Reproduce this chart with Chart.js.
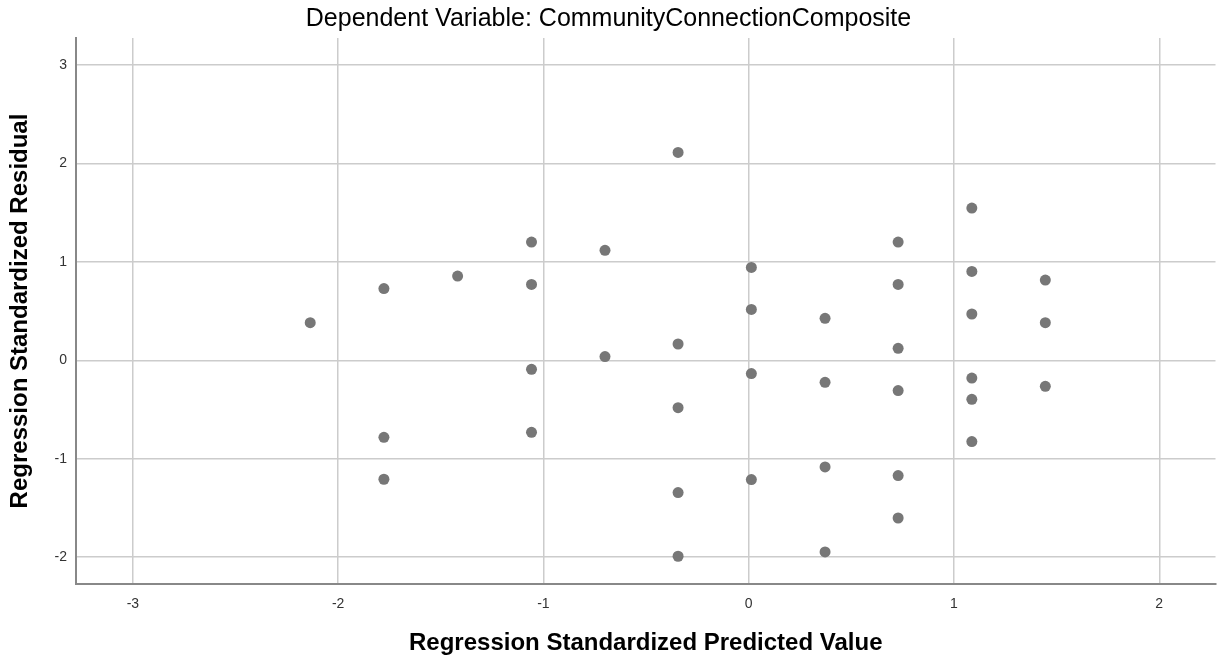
<!DOCTYPE html>
<html>
<head>
<meta charset="utf-8">
<title>Scatterplot</title>
<script src="https://cdn.jsdelivr.net/npm/chart.js@4.4.1/dist/chart.umd.min.js"></script>
<style>
  body { margin: 0; background: #fff; }
  #wrap { width: 1221px; height: 660px; }
</style>
</head>
<body>
<div id="wrap"><canvas id="residualChart"></canvas></div>
<script>
// Nilai prediksi terstandar (sumbu X)
const predictedValues = [
  -2.136,
  -1.777, -1.777, -1.777,
  -1.418,
  -1.058, -1.058, -1.058, -1.058,
  -0.700, -0.700,
  -0.344, -0.344, -0.344, -0.344, -0.344,
  0.013, 0.013, 0.013, 0.013,
  0.372, 0.372, 0.372, 0.372,
  0.728, 0.728, 0.728, 0.728, 0.728, 0.728,
  1.087, 1.087, 1.087, 1.087, 1.087, 1.087,
  1.445, 1.445, 1.445
];

// Residual terstandar (sumbu Y)
const residualValues = [
  0.383,
  0.729, -0.783, -1.209,
  0.857,
  1.202, 0.772, -0.091, -0.732,
  1.118, 0.038,
  2.114, 0.166, -0.481, -1.345, -1.992,
  0.945, 0.518, -0.135, -1.212,
  0.427, -0.224, -1.084, -1.948,
  1.202, 0.772, 0.122, -0.308, -1.172, -1.603,
  1.548, 0.904, 0.471, -0.180, -0.396, -0.826,
  0.816, 0.383, -0.264
];

// Label sumbu
const xTicks = [-3, -2, -1, 0, 1, 2];
const yTicks = [-2, -1, 0, 1, 2, 3];

const fontFamily = '"Liberation Sans", Arial, sans-serif';

function drawResidualChart() {
  const ctx = document.getElementById('residualChart').getContext('2d');
  const points = predictedValues.map((x, i) => ({ x: x, y: residualValues[i] }));

  const chart = new Chart(ctx, {
    type: 'scatter',
    data: {
      datasets: [{
        data: points,
        backgroundColor: '#777777',
        borderWidth: 0,
        pointRadius: 5.5,
        pointHoverRadius: 5.5
      }]
    },
    options: {
      responsive: true,
      maintainAspectRatio: false,
      animation: false,
      layout: { padding: { right: 4 } },
      plugins: {
        legend: { display: false },
        tooltip: { enabled: false },
        title: {
          display: true,
          text: 'Dependent Variable: CommunityConnectionComposite',
          color: '#000',
          font: { family: fontFamily, size: 25, weight: 'normal' },
          padding: { top: 4, bottom: 4 }
        }
      },
      scales: {
        x: {
          type: 'linear',
          min: -3.277,
          max: 2.274,
          afterBuildTicks: axis => { axis.ticks = xTicks.map(v => ({ value: v })); },
          afterFit: axis => { axis.height = 76; },
          grid: { color: '#cccccc', lineWidth: 1.5, drawTicks: false },
          border: { color: '#888888', width: 2 },
          ticks: {
            color: '#333',
            padding: 12,
            font: { family: fontFamily, size: 14 }
          },
          title: {
            display: true,
            text: 'Regression Standardized Predicted Value',
            color: '#000',
            font: { family: fontFamily, size: 24, weight: 'bold' },
            padding: { top: 0, bottom: 2 }
          }
        },
        y: {
          type: 'linear',
          min: -2.274,
          max: 3.277,
          afterBuildTicks: axis => { axis.ticks = yTicks.map(v => ({ value: v })); },
          afterFit: axis => { axis.width = 76; },
          grid: { color: '#cccccc', lineWidth: 1.5, drawTicks: false },
          border: { color: '#888888', width: 2 },
          ticks: {
            color: '#333',
            padding: 9,
            font: { family: fontFamily, size: 14 }
          },
          title: {
            display: true,
            text: 'Regression Standardized Residual',
            color: '#000',
            font: { family: fontFamily, size: 24, weight: 'bold' },
            padding: { top: 6, bottom: 0 }
          }
        }
      }
    }
  });
}

document.addEventListener('DOMContentLoaded', () => {
  drawResidualChart();
});
</script>
</body>
</html>
